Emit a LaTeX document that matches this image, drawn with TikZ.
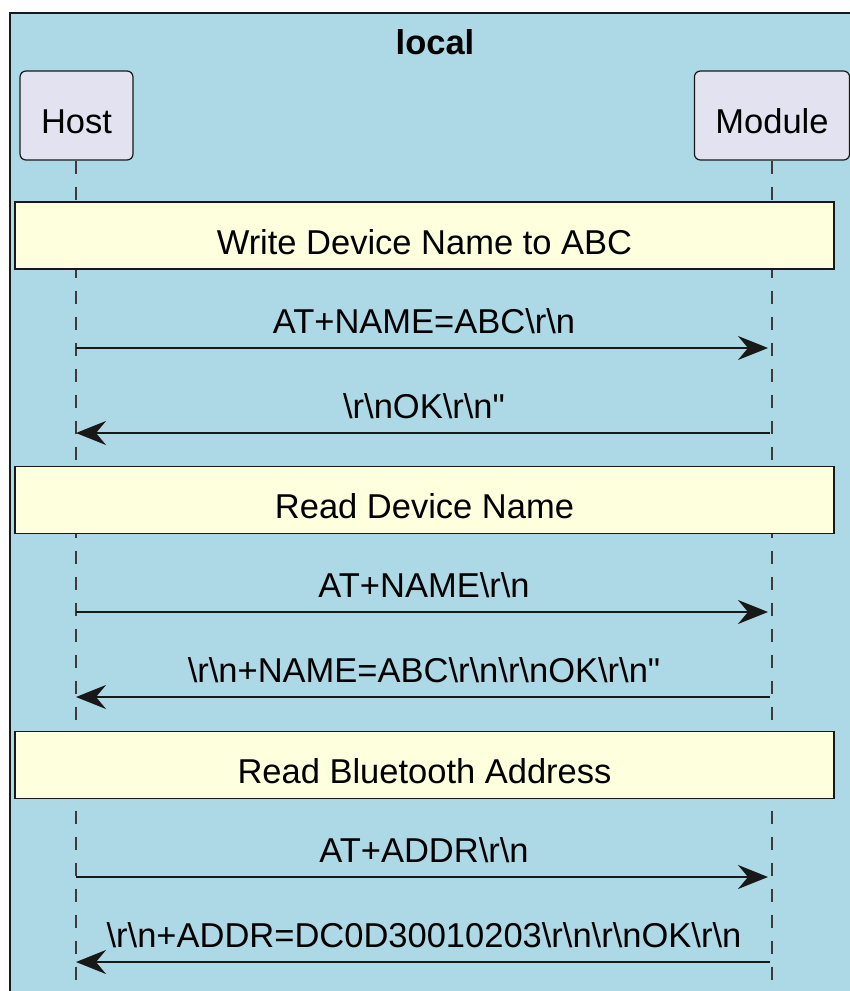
\documentclass[tikz,border=0pt]{standalone}
\usepackage{fontspec}
\setmainfont{Liberation Sans}[Ligatures=TeXOff]
\usetikzlibrary{positioning,arrows.meta}

\definecolor{framebg}{HTML}{ADD8E6}
\definecolor{partbg}{HTML}{E2E2F0}
\definecolor{notebg}{HTML}{FEFFDD}
\definecolor{edgecol}{HTML}{181818}
\newcommand{\bsl}{\textbackslash}

\begin{document}
\begin{tikzpicture}[x=1pt,y=1pt,
	font=\fontsize{34.5}{42}\selectfont,
	part/.style={draw=edgecol, fill=partbg, rounded corners=6pt, line width=1.2pt,
		minimum height=89pt, inner xsep=21pt, inner ysep=0pt, text height=35pt, text depth=0pt},
	note/.style={draw=edgecol, fill=notebg, line width=1.2pt, minimum width=819pt,
		minimum height=67pt, inner sep=0pt, text height=37pt, text depth=0pt},
	life/.style={draw=edgecol!85, line width=1.2pt, dash pattern=on 13pt off 13pt},
	msg/.style={draw=edgecol, line width=2.2pt, -{Stealth[length=30pt,width=24pt,inset=10pt]}},
	lbl/.style={above=13pt, inner sep=0pt, text depth=0pt}]
	\clip (0,0) rectangle (850,-991);
	\draw[edgecol, fill=framebg, line width=1.2pt] (10,-13) rectangle (860,-1000);
	\node[anchor=base, font=\fontsize{34.5}{42}\selectfont\bfseries] (title) at (435,-54) {local};
	
	\node[part] (host) at (76.5,-115.5) {Host};
	\node[part] (module) at (772,-115.5) {Module};
	\coordinate (hostend) at (76,-991);
	\coordinate (moduleend) at (772,-991);
	\draw[life] (host.south -| hostend) -- (hostend);
	\draw[life] (module.south) -- (moduleend);
	
	\node[note] (write) at (424.5,-235.5) {Write Device Name to ABC};
	\node[note] (readname) at (424.5,-500) {Read Device Name};
	\node[note] (readaddr) at (424.5,-765) {Read Bluetooth Address};
	
	\foreach \i/\y in {1/348,2/433,3/612,4/697,5/877,6/962} {
		\coordinate (h\i) at (76,-\y);
		\coordinate (m\i) at (772,-\y);
	}
	
	\draw[msg, shorten >=4pt] (h1) -- node[lbl]{AT+NAME=ABC\bsl r\bsl n} (m1);
	\draw[msg, shorten <=2pt] (m2) -- node[lbl]{\bsl r\bsl nOK\bsl r\bsl n"} (h2);
	\draw[msg, shorten >=4pt] (h3) -- node[lbl]{AT+NAME\bsl r\bsl n} (m3);
	\draw[msg, shorten <=2pt] (m4) -- node[lbl]{\bsl r\bsl n+NAME=ABC\bsl r\bsl n\bsl r\bsl nOK\bsl r\bsl n"} (h4);
	\draw[msg, shorten >=4pt] (h5) -- node[lbl]{AT+ADDR\bsl r\bsl n} (m5);
	\draw[msg, shorten <=2pt] (m6) -- node[lbl]{\bsl r\bsl n+ADDR=DC0D30010203\bsl r\bsl n\bsl r\bsl nOK\bsl r\bsl n} (h6);
\end{tikzpicture}
\end{document}
